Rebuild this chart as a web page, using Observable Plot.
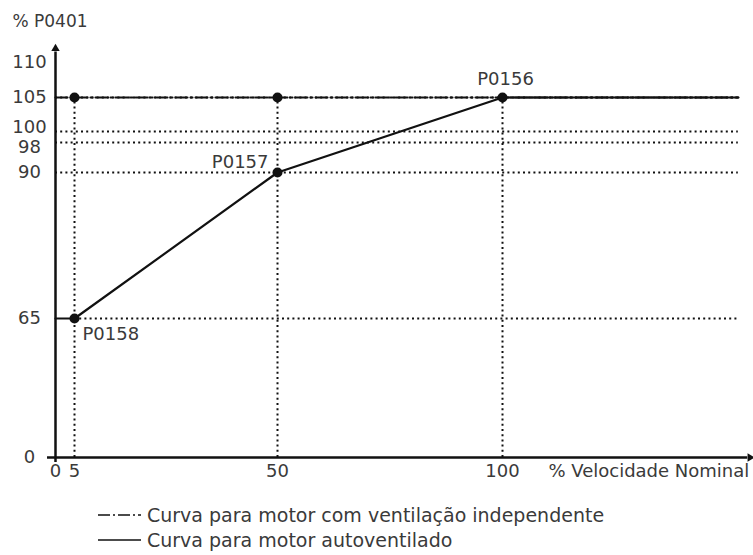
<!DOCTYPE html>
<html><head><meta charset="utf-8">
<script src="https://cdn.jsdelivr.net/npm/d3@7"></script>
<script src="https://cdn.jsdelivr.net/npm/@observablehq/plot@0.6"></script>
<style>
html,body{margin:0;padding:0;background:#fff;}
body{font-family:"DejaVu Sans",sans-serif;color:#3a3a3a;width:753px;}
#chart svg{display:block;}
.legend{position:relative;height:65px;font-size:19px;}
.row{position:absolute;left:0;display:flex;align-items:center;height:24px;}
.row svg{display:block;margin-left:98px;margin-right:6px;}
</style></head><body>
<div id="chart"></div>
<div class="legend" id="legend"></div>
<script>
// ---- data ----
const yTickValues = [0, 65, 90, 105, 110];
const yTickLow = [98];
const yTickHigh = [100];
const xTickValues = [0, 5, 50, 100];
const xEnd = 152.4;
// self-ventilated motor curve
const selfSpeed = [0, 5, 50, 100, xEnd];
const selfTorque = [65, 65, 90, 105, 105];
// independent-ventilation motor curve
const indepSpeed = [0, xEnd];
const indepTorque = [105, 105];
// marked points
const pointSpeed = [5, 50, 100, 5, 50];
const pointTorque = [65, 90, 105, 105, 105];
const paramSpeed = [5, 50, 100];
const paramTorque = [65, 90, 105];
const paramNames = ["P0158", "P0157", "P0156"];
// dotted reference lines
const guideTorque = [105, 100, 98, 90, 65];
const guideStart = [0, 0, 0, 0, 5];
const guideSpeed = [5, 50, 100];
const guideTop = [105, 105, 105];
const xLabel = "% Velocidade Nominal";
const yLabel = "% P0401";
const legendLabels = ["Curva para motor com ventilação independente", "Curva para motor autoventilado"];

const selfData = selfSpeed.map((s, i) => ({s, t: selfTorque[i]}));
const indepData = indepSpeed.map((s, i) => ({s, t: indepTorque[i]}));
const points = pointSpeed.map((s, i) => ({s, t: pointTorque[i]}));
const params = paramNames.map((n, i) => ({n, s: paramSpeed[i], t: paramTorque[i]}));
const hGuides = guideTorque.map((t, i) => ({t, s1: guideStart[i], s2: xEnd}));
const vGuides = guideSpeed.map((s, i) => ({s, t2: guideTop[i]}));

const ink = "#111";
const txt = "#3a3a3a";
const dots = "2,3.2";
const fs = 18;

const chart = Plot.plot({
  width: 753,
  height: 490,
  marginLeft: 55,
  marginRight: 15,
  marginTop: 40,
  marginBottom: 33,
  style: {fontFamily: "DejaVu Sans, sans-serif", color: txt, background: "#fff", overflow: "visible"},
  x: {type: "linear", domain: [0, 5, 50, 100], range: [55, 74, 277, 502], clamp: false},
  y: {type: "linear", domain: [0, 65, 90, 98, 100, 105, 110], range: [457, 318, 172, 142, 131, 97, 62], clamp: false},
  marks: [
    // dotted guides
    Plot.ruleY(hGuides, {y: "t", x1: "s1", x2: "s2", stroke: ink, strokeWidth: 2, strokeDasharray: dots}),
    Plot.ruleX(vGuides, {x: "s", y1: 0, y2: "t2", stroke: ink, strokeWidth: 2, strokeDasharray: dots}),
    // curves
    Plot.line(indepData, {x: "s", y: "t", stroke: ink, strokeWidth: 2.2, strokeDasharray: "12,3,2,3"}),
    Plot.line(selfData, {x: "s", y: "t", stroke: ink, strokeWidth: 2.2}),
    Plot.dot(points, {x: "s", y: "t", r: 5, fill: ink}),
    // axes lines
    Plot.ruleX([0], {y1: -2.3, y2: 111.5, stroke: ink, strokeWidth: 2.5}),
    Plot.ruleY([0], {x1: -2.1, x2: 154.5, stroke: ink, strokeWidth: 2.5}),
    Plot.dot([0], {x: 0, y: 112, symbol: "triangle2", r: 4, fill: ink}),
    Plot.dot([0], {x: 155, y: 0, symbol: "triangle2", r: 4, fill: ink, rotate: 90}),
    // tick labels
    Plot.axisY({ticks: yTickValues, tickSize: 0, tickPadding: 26, textAnchor: "middle", fontSize: fs, fill: txt}),
    Plot.axisY({ticks: yTickHigh, tickSize: 0, tickPadding: 26, textAnchor: "middle", fontSize: fs, fill: txt, dy: -4}),
    Plot.axisY({ticks: yTickLow, tickSize: 0, tickPadding: 26, textAnchor: "middle", fontSize: fs, fill: txt, dy: 5}),
    Plot.axisX({ticks: xTickValues, tickSize: 0, tickPadding: 7, fontSize: fs, fill: txt}),
    // axis titles
    Plot.text([xLabel], {x: 110.2, y: 0, text: d => d, textAnchor: "start", lineAnchor: "top", dy: 7, fontSize: fs, fill: txt}),
    Plot.text([yLabel], {frameAnchor: "top-left", text: d => d, dx: -43, dy: -26, lineAnchor: "top", textAnchor: "start", fontSize: 17, fill: txt}),
    // parameter labels
    Plot.text(params.slice(0, 1), {x: "s", y: "t", text: "n", textAnchor: "start", dx: 8, dy: 16, fontSize: fs, fill: txt}),
    Plot.text(params.slice(1, 2), {x: "s", y: "t", text: "n", textAnchor: "end", dx: -9, dy: -10, fontSize: fs, fill: txt}),
    Plot.text(params.slice(2, 3), {x: "s", y: "t", text: "n", textAnchor: "middle", dx: 3, dy: -18, fontSize: fs, fill: txt})
  ]
});
document.getElementById("chart").appendChild(chart);

// legend
const legend = document.getElementById("legend");
const styles = ["12,3,2,3", null];
const tops = [13, 38];
legendLabels.forEach((lab, i) => {
  const row = document.createElement("div");
  row.className = "row";
  row.style.top = (tops[i]) + "px";
  const sw = `<svg width="43" height="10"><line x1="0" x2="43" y1="5" y2="5" stroke="${ink}" stroke-width="1.6" ${styles[i] ? `stroke-dasharray="${styles[i]}"` : ""}/></svg>`;
  row.innerHTML = sw + `<span>${lab}</span>`;
  legend.appendChild(row);
});
</script>
</body></html>
